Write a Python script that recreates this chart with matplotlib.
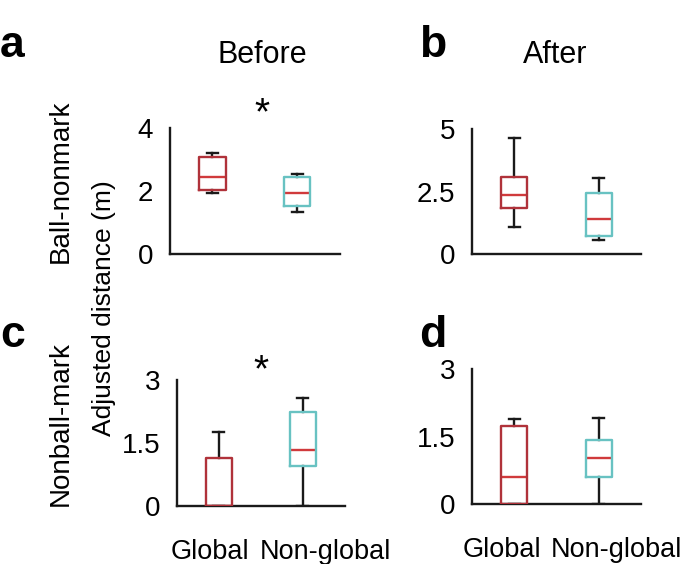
import matplotlib
matplotlib.use("Agg")
import matplotlib.pyplot as plt

plt.rcParams['font.family'] = ['Liberation Sans', 'DejaVu Sans']

groups = ["Global", "Non-global"]

# per panel: [Global, Non-global] -> whislo, q1, med, q3, whishi
a_stats = [[1.94, 2.03, 2.44, 3.08, 3.20], [1.33, 1.52, 1.94, 2.44, 2.54]]
b_stats = [[1.08, 1.84, 2.36, 3.08, 4.64], [0.56, 0.72, 1.40, 2.44, 3.04]]
c_stats = [[0.00, 0.00, 0.00, 1.14, 1.76], [0.00, 0.95, 1.33, 2.24, 2.57]]
d_stats = [[0.00, 0.00, 0.60, 1.73, 1.89], [0.00, 0.60, 1.02, 1.42, 1.91]]

a_ticks = [0, 2, 4]
b_ticks = [0, 2.5, 5]
c_ticks = [0, 1.5, 3]
d_ticks = [0, 1.5, 3]

box_colors = ["#b0323a", "#68c2c2"]
med_color = "#d03a3c"

fig = plt.figure(figsize=(6.85, 5.64), dpi=100)


def panel(rect, stats, ticks, ticklabels, xlabel_pos=None):
    ax = fig.add_axes(rect)
    bx = [dict(whislo=s[0], q1=s[1], med=s[2], q3=s[3], whishi=s[4], fliers=[])
          for s in stats]
    res = ax.bxp(bx, positions=[1, 2], widths=0.31, capwidths=0.13,
                 patch_artist=False, showfliers=False,
                 whiskerprops=dict(color="#1a1a1a", lw=1.7),
                 capprops=dict(color="#1a1a1a", lw=1.7),
                 medianprops=dict(color=med_color, lw=1.7),
                 boxprops=dict(lw=1.7))
    for b, c in zip(res["boxes"], box_colors):
        b.set_color(c)
        b.set_zorder(3)
    ax.set_xlim(0.5, 2.5)
    ax.set_ylim(ticks[0], ticks[-1])
    ax.set_yticks(ticks)
    ax.set_yticklabels(ticklabels)
    for s in ["top", "right"]:
        ax.spines[s].set_visible(False)
    for s in ["left", "bottom"]:
        ax.spines[s].set_linewidth(1.7)
        ax.spines[s].set_color("#1a1a1a")
    ax.tick_params(axis="y", length=0, pad=12, labelsize=20)
    ax.tick_params(axis="x", length=0, pad=24, labelsize=19.5)
    if xlabel_pos:
        # labels sit slightly left/right of the boxes in the original
        ax.set_xticks(xlabel_pos)
        ax.set_xticklabels(groups)
    else:
        ax.set_xticks([])
    return ax


ax_a = panel([0.248, 0.5496, 0.248, 0.2234], a_stats, a_ticks, ["0", "2", "4"])
ax_b = panel([0.689, 0.5496, 0.247, 0.2216], b_stats, b_ticks, ["0", "2.5", "5"])
ax_c = panel([0.258, 0.1028, 0.245, 0.2234], c_stats, c_ticks, ["0", "1.5", "3"], [0.9, 2.27])
ax_d = panel([0.689, 0.1064, 0.247, 0.2390], d_stats, d_ticks, ["0", "1.5", "3"], [0.86, 2.21])

ax_a.text(1.58, 4.45, "*", fontsize=28, ha="center", va="center", clip_on=False)
ax_c.text(1.5, 3.2, "*", fontsize=28, ha="center", va="center", clip_on=False)

# panel letters
for lx, ly, t in [(0.0, 0.92, "a"), (0.612, 0.92, "b"), (0.0, 0.405, "c"), (0.612, 0.405, "d")]:
    fig.text(lx, ly, t, fontsize=32, fontweight="bold", ha="left", va="center")

fig.text(262 / 685, 1 - 55 / 564, "Before", fontsize=22, ha="center", va="center")
fig.text(555 / 685, 1 - 55 / 564, "After", fontsize=22, ha="center", va="center")

fig.text(61 / 685, 1 - 181 / 564, "Ball-nonmark", fontsize=20, rotation=90, ha="center", va="center")
fig.text(61 / 685, 1 - 424 / 564, "Nonball-mark", fontsize=20, rotation=90, ha="center", va="center")
fig.text(104 / 685, 1 - 308 / 564, "Adjusted distance (m)", fontsize=19, rotation=90, ha="center", va="center")

fig.savefig("out.png", dpi=100)
